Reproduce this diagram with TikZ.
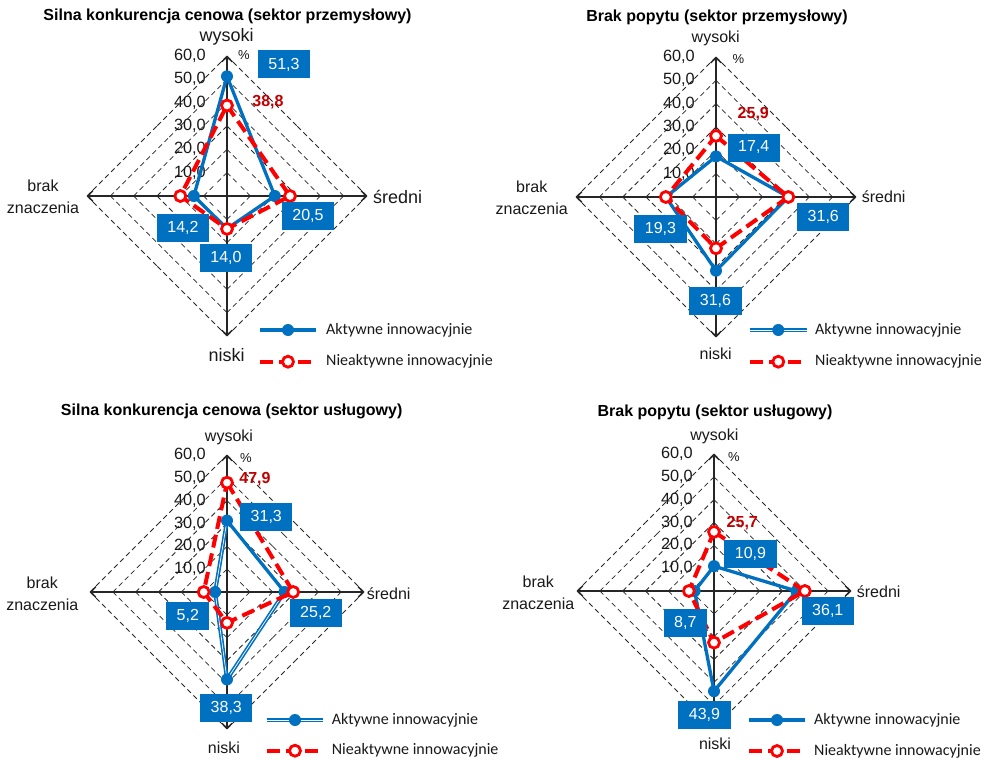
\documentclass[tikz,border=0pt]{standalone}
\usepackage{fontspec}
\setmainfont{Liberation Sans}
\newfontfamily\legfont{Carlito}
\usetikzlibrary{arrows.meta}
\definecolor{cblue}{RGB}{0,112,192}
\definecolor{cred}{RGB}{255,0,0}
\definecolor{cdred}{RGB}{192,0,0}
\definecolor{caxis}{RGB}{38,38,38}

\newcommand{\radargrid}[2]{%
  \foreach \k in {10,20,30,40,50,60}{%
    \pgfmathsetmacro{\rr}{\k*#2}%
    \draw[gridline] (0,-\rr) -- (\rr/2,-\rr/2);
    \draw[gridline] (\rr,0) -- (\rr/2,-\rr/2);
    \draw[gridline] (\rr,0) -- (\rr/2,\rr/2);
    \draw[gridline] (0,\rr) -- (\rr/2,\rr/2);
    \draw[gridline] (0,\rr) -- (-\rr/2,\rr/2);
    \draw[gridline] (-\rr,0) -- (-\rr/2,\rr/2);
    \draw[gridline] (-\rr,0) -- (-\rr/2,-\rr/2);
    \draw[gridline] (0,-\rr) -- (-\rr/2,-\rr/2);
  }%
  \pgfmathsetmacro{\RR}{60*#2}%
  \coordinate (#1c) at (0,0);
  \coordinate (#1top) at (0,-\RR);
  \coordinate (#1rgt) at (\RR,0);
  \coordinate (#1bot) at (0,\RR);
  \coordinate (#1lft) at (-\RR,0);
  \draw[axisline] (#1c) -- (#1top);
  \draw[axisline] (#1c) -- (#1rgt);
  \draw[axisline] (#1c) -- (#1bot);
  \draw[axisline] (#1c) -- (#1lft);
  \foreach \k in {10,20,30,40,50,60}{%
    \node[ticklab] (#1t\k) at (-21,-\k*#2) {\k,0};
  }%
}

\newcommand{\radarpts}[6]{% prefix, scale, w, e, n, b
  \coordinate (#1w) at (0,-#3*#2);
  \coordinate (#1e) at (#4*#2,0);
  \coordinate (#1n) at (0,#5*#2);
  \coordinate (#1b) at (-#6*#2,0);
}

\begin{document}
\begin{tikzpicture}[x=1pt,y=-1pt,
  gridline/.style={draw=black!85, line width=0.8pt, dash pattern=on 5pt off 3.5pt},
  axisline/.style={draw=caxis, line width=1.6pt, -{Straight Barb[length=5pt,width=11pt,line width=1.4pt]}},
  ticklab/.style={anchor=east, inner sep=0pt, text=black!90, font=\fontsize{16.3}{19}\selectfont},
  axlab/.style={inner sep=0pt, text=black!90, font=\fontsize{16}{19}\selectfont},
  axlabbig/.style={inner sep=0pt, text=black!90, font=\fontsize{18}{21}\selectfont},
  twolab/.style={inner sep=0pt, align=center, text=black!90, font=\fontsize{16}{21.6}\selectfont},
  pctlab/.style={inner sep=0pt, text=black!90, font=\fontsize{13}{15}\selectfont},
  titlelab/.style={inner sep=0pt, font=\bfseries\fontsize{16}{19}\selectfont},
  blueline/.style={draw=cblue, line width=3.3pt, line join=round},
  bluedouble/.style={draw=cblue, double=white, double distance=0.7pt, line width=1.6pt, line join=round},
  redline/.style={draw=cred, line width=4pt, dash pattern=on 13pt off 6pt, line join=round},
  bluedot/.style={circle, fill=cblue, inner sep=0pt, minimum size=12pt},
  reddot/.style={circle, draw=cred, fill=white, line width=2.8pt, inner sep=0pt, minimum size=11pt},
  valbox/.style={fill=cblue, text=white, font=\fontsize{16}{19}\selectfont, inner xsep=10.5pt, inner ysep=0pt, minimum height=28pt},
  redlab/.style={text=cdred, inner sep=0pt, font=\bfseries\fontsize{16}{19}\selectfont},
  legtext/.style={anchor=west, inner sep=0pt, text=black!90, font=\legfont\fontsize{16}{19}\selectfont}
]
\fill[white] (0,0) rectangle (991,760);
\useasboundingbox (0,0) rectangle (991,760);

% ================= Chart A =================
\node[titlelab] (Atitle) at (227.5,16.7) {Silna konkurencja cenowa (sektor przemysłowy)};
\begin{scope}[shift={(227,196)}]
  \radargrid{A}{2.333}
  \radarpts{AB}{2.333}{51.3}{20.5}{14.0}{14.2}
  \radarpts{AR}{2.333}{38.8}{27}{14.1}{20}
  \draw[blueline] (ABw) -- (ABe) -- (ABn) -- (ABb) -- cycle;
  \foreach \p in {w,e,n,b}{\node[bluedot] (ABm\p) at (AB\p) {};}
  \draw[redline] (ARw) -- (ARe) -- (ARn) -- (ARb) -- cycle;
  \foreach \p in {w,e,n,b}{\node[reddot] (ARm\p) at (AR\p) {};}
\end{scope}
\node[axlabbig] (Awys) at (226.7,36.7) {wysoki};
\node[axlabbig, anchor=west] (Asre) at (373,196.7) {średni};
\node[twolab] (Abrak) at (43,197) {brak\\znaczenia};
\node[axlabbig] (Anis) at (226.7,355) {niski};
\node[pctlab] (Apct) at (244,55) {\%};
\node[valbox] (Av1) at (284,64.5) {51,3};
\node[redlab] (Av2) at (268,101.7) {38,8};
\node[valbox] (Av3) at (308,216) {20,5};
\node[valbox] (Av4) at (183,228) {14,2};
\node[valbox] (Av5) at (226,257.5) {14,0};
\coordinate (ALa1) at (260,330); \coordinate (ALb1) at (316,330);
\draw[blueline] (ALa1) -- (ALb1);
\node[bluedot] (ALm1) at (288,330) {};
\node[legtext] (ALt1) at (326,330) {Aktywne innowacyjnie};
\coordinate (ALa2) at (260,361.7); \coordinate (ALb2) at (316,361.7);
\draw[redline] (ALa2) -- (ALb2);
\node[reddot] (ALm2) at (288,361.7) {};
\node[legtext] (ALt2) at (326,361.7) {Nieaktywne innowacyjnie};

% ================= Chart B =================
\node[titlelab] (Btitle) at (717,17) {Brak popytu (sektor przemysłowy)};
\begin{scope}[shift={(716,197)}]
  \radargrid{B}{2.333}
  \radarpts{BB}{2.333}{17.4}{31}{31.6}{21.5}
  \radarpts{BR}{2.333}{26.2}{31}{22}{21.5}
  \draw[blueline] (BBw) -- (BBe) -- (BBn) -- (BBb) -- cycle;
  \foreach \p in {w,e,n,b}{\node[bluedot] (BBm\p) at (BB\p) {};}
  \draw[redline] (BRw) -- (BRe) -- (BRn) -- (BRb) -- cycle;
  \foreach \p in {w,e,n,b}{\node[reddot] (BRm\p) at (BR\p) {};}
\end{scope}
\node[axlab] (Bwys) at (715.7,38.3) {wysoki};
\node[axlab, anchor=west] (Bsre) at (861.7,196.7) {średni};
\node[twolab] (Bbrak) at (531.7,197.5) {brak\\znaczenia};
\node[axlab] (Bnis) at (715.7,353.3) {niski};
\node[pctlab] (Bpct) at (738.3,59.3) {\%};
\node[valbox] (Bv1) at (753.8,147.5) {17,4};
\node[redlab] (Bv2) at (753.3,114.3) {25,9};
\node[valbox] (Bv3) at (823.3,217) {31,6};
\node[valbox] (Bv4) at (660.5,228.8) {19,3};
\node[valbox] (Bv5) at (715.5,300.8) {31,6};
\coordinate (BLa1) at (750,330); \coordinate (BLb1) at (806.7,330);
\draw[bluedouble] (BLa1) -- (BLb1);
\node[bluedot] (BLm1) at (778.3,330) {};
\node[legtext] (BLt1) at (815,330) {Aktywne innowacyjnie};
\coordinate (BLa2) at (750,361.7); \coordinate (BLb2) at (806.7,361.7);
\draw[redline] (BLa2) -- (BLb2);
\node[reddot] (BLm2) at (778.3,361.7) {};
\node[legtext] (BLt2) at (815,361.7) {Nieaktywne innowacyjnie};

% ================= Chart C =================
\node[titlelab] (Ctitle) at (231.7,411.7) {Silna konkurencja cenowa (sektor usługowy)};
\begin{scope}[shift={(227,592)}]
  \radargrid{C}{2.283}
  \radarpts{CB}{2.283}{31.3}{25.2}{38.3}{5.2}
  \radarpts{CR}{2.283}{47.9}{29}{13.5}{10.2}
  \draw[blueline] (CBw) -- (CBe);
  \draw[bluedouble] (CBe) -- (CBn) -- (CBb) -- (CBw);
  \foreach \p in {w,e,n,b}{\node[bluedot] (CBm\p) at (CB\p) {};}
  \draw[redline] (CRw) -- (CRe) -- (CRn) -- (CRb) -- cycle;
  \foreach \p in {w,e,n,b}{\node[reddot] (CRm\p) at (CR\p) {};}
\end{scope}
\node[axlab] (Cwys) at (229,437.7) {wysoki};
\node[axlab, anchor=west] (Csre) at (366.7,593.3) {średni};
\node[twolab] (Cbrak) at (42.3,593.8) {brak\\znaczenia};
\node[axlab] (Cnis) at (224,747.3) {niski};
\node[pctlab] (Cpct) at (246,458.3) {\%};
\node[valbox] (Cv1) at (266.3,517) {31,3};
\node[redlab] (Cv2) at (255,479.3) {47,9};
\node[valbox] (Cv3) at (315.8,613) {25,2};
\node[valbox] (Cv4) at (187.8,616.3) {5,2};
\node[valbox] (Cv5) at (226.3,708.3) {38,3};
\coordinate (CLa1) at (266.7,720); \coordinate (CLb1) at (323.3,720);
\draw[bluedouble] (CLa1) -- (CLb1);
\node[bluedot] (CLm1) at (295,720) {};
\node[legtext] (CLt1) at (331.7,720) {Aktywne innowacyjnie};
\coordinate (CLa2) at (266.7,750.7); \coordinate (CLb2) at (323.3,750.7);
\draw[redline] (CLa2) -- (CLb2);
\node[reddot] (CLm2) at (295,750.7) {};
\node[legtext] (CLt2) at (331.7,750.7) {Nieaktywne innowacyjnie};

% ================= Chart D =================
\node[titlelab] (Dtitle) at (715,412.7) {Brak popytu (sektor usługowy)};
\begin{scope}[shift={(714,591)}]
  \radargrid{D}{2.283}
  \radarpts{DB}{2.283}{10.9}{36.1}{43.9}{8.5}
  \radarpts{DR}{2.283}{25.9}{39.8}{22.6}{11}
  \draw[blueline] (DBw) -- (DBe) -- (DBn) -- (DBb) -- cycle;
  \foreach \p in {w,e,n,b}{\node[bluedot] (DBm\p) at (DB\p) {};}
  \draw[redline] (DRw) -- (DRe) -- (DRn) -- (DRb) -- cycle;
  \foreach \p in {w,e,n,b}{\node[reddot] (DRm\p) at (DR\p) {};}
\end{scope}
\node[axlab] (Dwys) at (714.3,436.7) {wysoki};
\node[axlab, anchor=west] (Dsre) at (856.7,591.7) {średni};
\node[twolab] (Dbrak) at (538.3,592.5) {brak\\znaczenia};
\node[axlab] (Dnis) at (715,743.3) {niski};
\node[pctlab] (Dpct) at (734,456.7) {\%};
\node[valbox] (Dv1) at (750.5,553.8) {10,9};
\node[redlab] (Dv2) at (742.3,523.3) {25,7};
\node[valbox] (Dv3) at (827.8,611.2) {36,1};
\node[valbox] (Dv4) at (685.3,622.8) {8,7};
\node[valbox] (Dv5) at (704.5,715) {43,9};
\coordinate (DLa1) at (749.3,720); \coordinate (DLb1) at (805,720);
\draw[blueline] (DLa1) -- (DLb1);
\node[bluedot] (DLm1) at (777,720) {};
\node[legtext] (DLt1) at (814,720) {Aktywne innowacyjnie};
\coordinate (DLa2) at (749.3,751); \coordinate (DLb2) at (805,751);
\draw[redline] (DLa2) -- (DLb2);
\node[reddot] (DLm2) at (777,751) {};
\node[legtext] (DLt2) at (814,751) {Nieaktywne innowacyjnie};
\end{tikzpicture}
\end{document}
